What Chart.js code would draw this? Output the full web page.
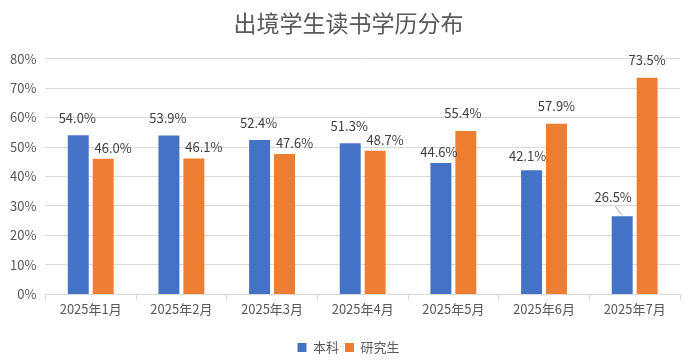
<!DOCTYPE html>
<html><head><meta charset="utf-8">
<script src="https://cdn.jsdelivr.net/npm/chart.js@4"></script>
<style>html,body{margin:0;padding:0;background:#fff}#wrap{width:697px;height:363px}</style>
</head><body><div id="wrap"><canvas id="c" width="697" height="363"></canvas></div>
<script>
const categories = ['2025年1月','2025年2月','2025年3月','2025年4月','2025年5月','2025年6月','2025年7月'];
const undergrad = [54.0, 53.9, 52.4, 51.3, 44.6, 42.1, 26.5];
const graduate = [46.0, 46.1, 47.6, 48.7, 55.4, 57.9, 73.5];
const yTicks = [0,10,20,30,40,50,60,70,80];

const FONT = '"Noto Sans CJK SC","Noto Sans",sans-serif';
// label offsets (style): [dx, dy above bar top]
const labelOffsets = [
  [[-1,17],[-1,17],[-1,17],[-1,17],[-2,11],[-4,14],[-9,19]],
  [[10,11],[10,11],[10,11],[10,11],[-3,18],[0,18],[0,18]]
];
const dataLabels = {
  id:'dataLabels',
  afterDatasetsDraw(chart){
    const ctx = chart.ctx;
    ctx.save();
    ctx.font = '13px ' + FONT;
    ctx.fillStyle = '#404040';
    ctx.textAlign = 'center';
    ctx.textBaseline = 'middle';
    chart.data.datasets.forEach((ds, di) => {
      const meta = chart.getDatasetMeta(di);
      meta.data.forEach((el, i) => {
        const off = labelOffsets[di][i];
        const x = el.x + off[0], y = el.y - off[1];
        ctx.fillText(ds.data[i].toFixed(1) + '%', x, y);
        if (di === 0 && i === 6) {
          ctx.strokeStyle = '#a6a6a6'; ctx.lineWidth = 1;
          ctx.beginPath(); ctx.moveTo(x + 2, y + 9); ctx.lineTo(el.x, el.y - 1); ctx.stroke();
        }
      });
    });
    ctx.restore();
  }
};
// center title and legend on the full canvas
const centerBlocks = {
  id:'centerBlocks',
  afterLayout(chart){
    [chart.titleBlock, chart.legend].forEach(b => {
      if (!b) return;
      const w = b.right - b.left;
      b.left = (chart.width - w) / 2;
      b.right = b.left + w;
    });
  }
};

new Chart(document.getElementById('c'), {
  type: 'bar',
  data: {
    labels: categories,
    datasets: [
      {label:'本科', data: undergrad, backgroundColor:'#4472C4'},
      {label:'研究生', data: graduate, backgroundColor:'#ED7D31'}
    ]
  },
  options: {
    responsive:false, animation:false,
    layout:{padding:{left:1,right:17,top:0,bottom:-1}},
    categoryPercentage:0.55, barPercentage:0.84,
    plugins:{
      title:{display:true, text:'出境学生读书学历分布', color:'#595959',
        font:{family:FONT, size:23, weight:'normal'}, padding:{top:9,bottom:22}},
      legend:{position:'bottom', labels:{color:'#595959', font:{family:FONT,size:13},
        boxWidth:9, boxHeight:9, padding:6}},
      tooltip:{enabled:false}
    },
    scales:{
      x:{
        afterFit(scale){ scale.height += 17; },
        grid:{display:true, offset:true, drawOnChartArea:false, drawTicks:true, tickLength:6, color:'#d9d9d9'},
        border:{color:'#d9d9d9'},
        ticks:{color:'#595959', font:{family:FONT,size:13}, padding:1}
      },
      y:{
        min:0, max:80,
        afterBuildTicks(axis){ axis.ticks = yTicks.map(v=>({value:v})); },
        grid:{color:'#d9d9d9', drawTicks:false},
        border:{display:false},
        ticks:{color:'#595959', font:{family:FONT,size:13}, padding:9, callback:v=>v+'%'}
      }
    }
  },
  plugins:[dataLabels, centerBlocks]
});
</script></body></html>
